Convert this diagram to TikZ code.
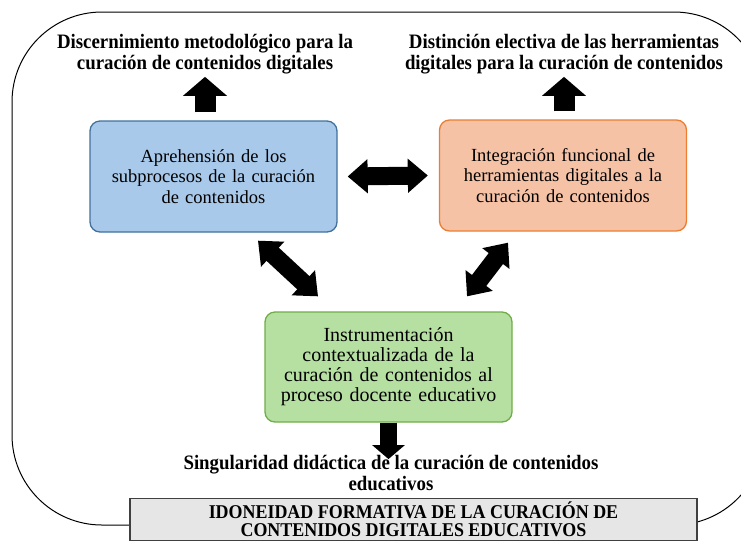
\documentclass[tikz,border=0pt]{standalone}
\usepackage{fontspec}
\setmainfont{Liberation Serif}
\newfontfamily\labelfont[FakeStretch=0.92]{Liberation Serif}
\newfontfamily\boxfont[WordSpace=1.6]{Liberation Serif}
\usetikzlibrary{arrows.meta,calc,positioning}
\definecolor{bluefill}{HTML}{A9C9EA}
\definecolor{blueline}{HTML}{41719C}
\definecolor{orangefill}{HTML}{F5C2A6}
\definecolor{orangeline}{HTML}{ED7D31}
\definecolor{greenfill}{HTML}{B6E0A2}
\definecolor{greenline}{HTML}{70AD47}
\definecolor{grayfill}{HTML}{E6E6E6}
\begin{document}
\begin{tikzpicture}[x=1pt,y=-1pt,
  box/.style={draw,line width=1.3pt,rounded corners=10pt,minimum width=247pt,minimum height=111pt,
    align=center,text width=240pt,font=\boxfont\fontsize{18.5}{20.5}\selectfont},
  lbl/.style={align=center,inner sep=0pt,font=\labelfont\bfseries\fontsize{20.5}{20.5}\selectfont},
  bigarrow/.style={line width=21pt,-{Triangle[length=19pt,width=43pt]}},
  dblarrow/.style={line width=18pt,{Triangle[length=20pt,width=33pt]}-{Triangle[length=20pt,width=33pt]}}]
  \useasboundingbox (0,0) rectangle (741,542);
  \draw[line width=1pt,rounded corners=90pt] (12,12) rectangle (764,525);
  \node[box,fill=bluefill,draw=blueline] (blue) at (213.5,176.5) {Aprehensión de los\\ subprocesos de la curación\\ de contenidos};
  \node[box,fill=orangefill,draw=orangeline] (orange) at (563,175.5) {Integración funcional de\\ herramientas digitales a la\\ curación de contenidos};
  \node[box,fill=greenfill,draw=greenline,minimum height=110pt,font=\boxfont\fontsize{20}{20}\selectfont] (green) at (388.5,367) {Instrumentación\\ contextualizada de la\\ curación de contenidos al\\ proceso docente educativo};
  \node[lbl] (lblTL) at (205,54) {Discernimiento metodológico para la\\ curación de contenidos digitales};
  \node[lbl] (lblTR) at (564,54) {Distinción electiva de las herramientas\\ digitales para la curación de contenidos};
  \node[lbl,font=\labelfont\bfseries\fontsize{20.5}{21}\selectfont] (lblB) at (391,473) {Singularidad didáctica de la curación de contenidos\\ educativos};
  \node[draw=black!75,line width=1.2pt,fill=grayfill,minimum width=567pt,inner ysep=3pt,
    anchor=north,align=center,font=\labelfont\bfseries\fontsize{19.5}{18.5}\selectfont]
    (title) at (413.5,498) {IDONEIDAD FORMATIVA DE LA CURACIÓN DE\\ CONTENIDOS DIGITALES EDUCATIVOS};
  % flechas
  \draw[bigarrow,shorten <=8pt,shorten >=3pt] (blue.north -| lblTL.south) -- (lblTL.south);
  \draw[bigarrow,shorten <=8pt,shorten >=3pt] (orange.north -| lblTR.south) -- (lblTR.south);
  \draw[bigarrow,line width=17pt,-{Triangle[length=14pt,width=32pt]},shorten >=-4pt] (green.south) -- (green.south |- lblB.north);
  \draw[dblarrow] ($(blue.east)+(10,0)$) -- ($(orange.west)+(-11,0)$);
  \draw[dblarrow] ($(blue.south)+(44.5,8)$) -- ($(green.north)+(-70.5,-15)$);
  \draw[dblarrow] ($(orange.south)+(-55,11)$) -- ($(green.north)+(78.5,-15)$);
\end{tikzpicture}
\end{document}
